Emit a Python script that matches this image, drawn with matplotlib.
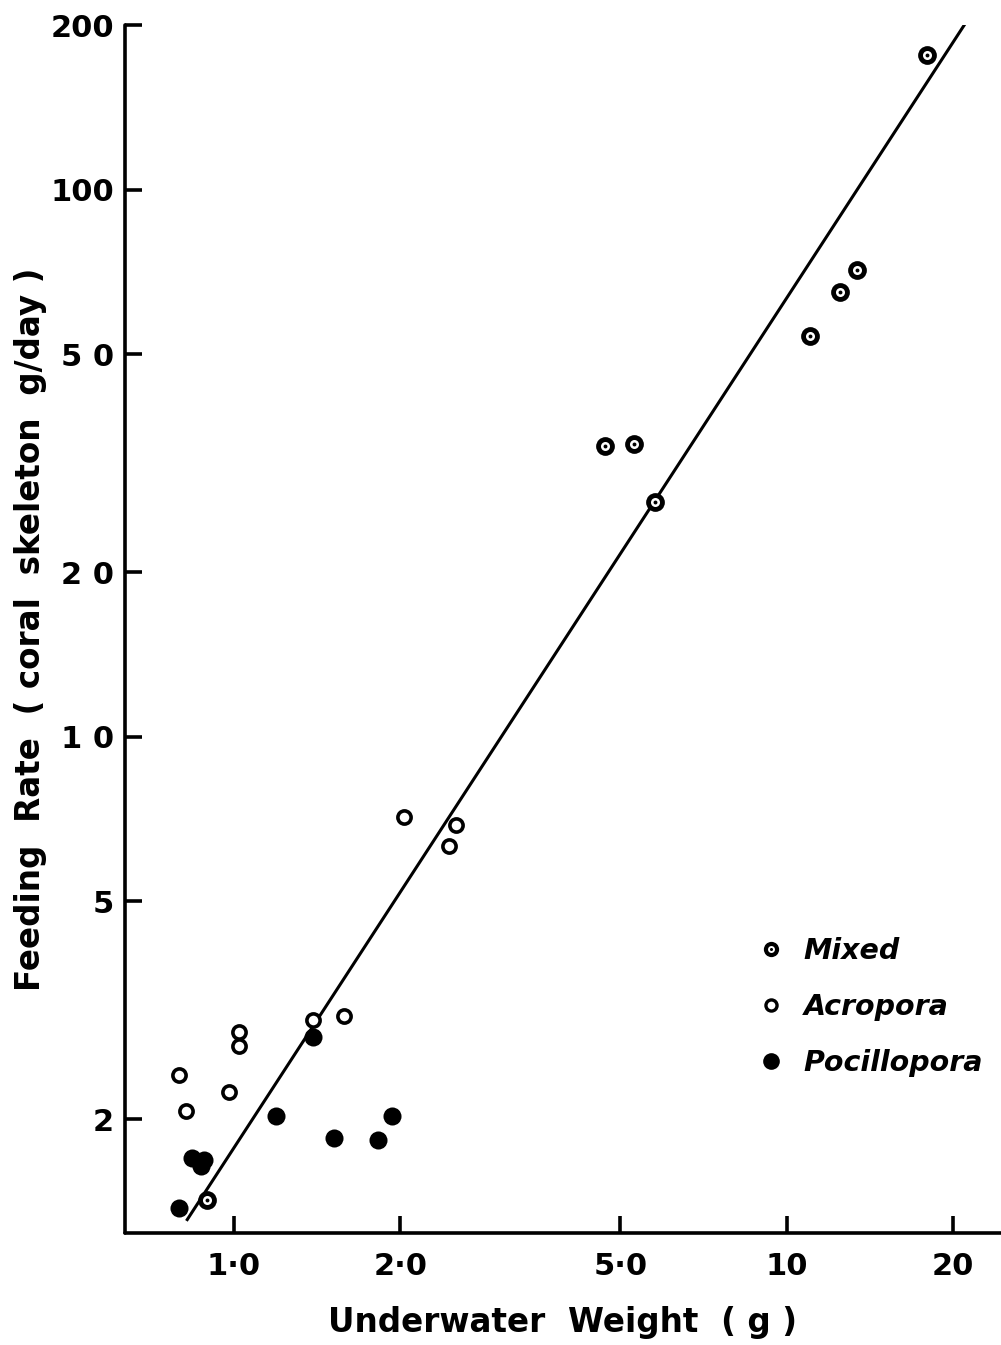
"""
Feeding rate vs underwater weight for coral-eating fish groups (log-log).
"""

import matplotlib
matplotlib.use("Agg")
import matplotlib.pyplot as plt
from matplotlib.legend_handler import HandlerTuple
from matplotlib.lines import Line2D

# data
mixed_weight = [17.9, 13.4, 12.5, 11.0, 4.68, 5.30, 5.78, 0.894]
mixed_rate = [176, 71.4, 65.1, 54.1, 34.0, 34.3, 26.9, 1.42]

acropora_weight = [2.03, 2.52, 2.45, 1.39, 1.58, 1.02, 1.02, 0.796, 0.819, 0.979]
acropora_rate = [7.14, 6.90, 6.32, 3.04, 3.08, 2.88, 2.72, 2.41, 2.07, 2.24]

pocillopora_weight = [1.39, 1.19, 1.93, 1.515, 1.82, 0.840, 0.883, 0.872, 0.796]
pocillopora_rate = [2.83, 2.03, 2.03, 1.85, 1.83, 1.70, 1.685, 1.64, 1.377]

fit_weight = [0.823, 20.96]
fit_rate = [1.31, 200.3]

x_ticks = [1, 2, 5, 10, 20]
x_tick_labels = ["1·0", "2·0", "5·0", "10", "20"]
y_ticks = [2, 5, 10, 20, 50, 100, 200]
y_tick_labels = ["2", "5", "1 0", "2 0", "5 0", "100", "200"]

FONT = "DejaVu Sans"


def main():
    fig = plt.figure(figsize=(10.01, 13.45), dpi=100)
    ax = fig.add_axes([125 / 1001, 112 / 1345, 876 / 1001, 1208 / 1345])

    ax.set_xscale("log")
    ax.set_yscale("log")
    ax.set_xlim(0.635, 24.4)
    ax.set_ylim(1.238, 200)

    # regression line
    ax.plot(fit_weight, fit_rate, color="black", lw=2.2, zorder=2)

    # Mixed: black disk, white ring, black centre
    ax.plot(mixed_weight, mixed_rate, "o", ms=13.5, color="black", mec="none", zorder=3)
    ax.plot(mixed_weight, mixed_rate, "o", ms=6.5, color="white", mec="none", zorder=4)
    ax.plot(mixed_weight, mixed_rate, "o", ms=2.8, color="black", mec="none", zorder=5)

    # Acropora: open circles
    ax.plot(acropora_weight, acropora_rate, "o", ms=9.5, mfc="white", mec="black",
            mew=2.6, zorder=3)

    # Pocillopora: filled circles
    ax.plot(pocillopora_weight, pocillopora_rate, "o", ms=13, color="black",
            mec="none", zorder=3)

    # axes styling
    for side in ["top", "right"]:
        ax.spines[side].set_visible(False)
    for side in ["left", "bottom"]:
        ax.spines[side].set_linewidth(2.6)
        ax.spines[side].set_capstyle("round")

    ax.set_xticks(x_ticks)
    ax.set_xticklabels(x_tick_labels)
    ax.set_yticks(y_ticks)
    ax.set_yticklabels(y_tick_labels)
    ax.minorticks_off()
    ax.tick_params(axis="both", direction="in", length=12, width=2.6,
                   labelsize=22)
    ax.tick_params(axis="x", pad=14)
    ax.tick_params(axis="y", pad=8)
    for lab in ax.get_xticklabels() + ax.get_yticklabels():
        lab.set_fontfamily(FONT)
        lab.set_fontweight("bold")

    ax.set_xlabel("Underwater  Weight  ( g )", fontsize=23.5, fontweight="bold",
                  family=FONT, labelpad=18)
    ax.set_ylabel("Feeding  Rate  ( coral  skeleton  g/day )", fontsize=23.5,
                  fontweight="bold", family=FONT, labelpad=2)

    # legend
    h_mixed = (
        Line2D([], [], ls="none", marker="o", ms=11, color="black", mec="none"),
        Line2D([], [], ls="none", marker="o", ms=5, color="white", mec="none"),
        Line2D([], [], ls="none", marker="o", ms=2.2, color="black", mec="none"),
    )
    h_acro = Line2D([], [], ls="none", marker="o", ms=8, mfc="white", mec="black", mew=2.4)
    h_poci = Line2D([], [], ls="none", marker="o", ms=12, color="black", mec="none")
    ax.legend(
        [h_mixed, h_acro, h_poci],
        ["Mixed", "Acropora", "Pocillopora"],
        handler_map={tuple: HandlerTuple(ndivide=1)},
        loc="upper left",
        bbox_to_anchor=(0.692, 0.266),
        frameon=False,
        handlelength=1.0,
        handletextpad=0.65,
        labelspacing=0.98,
        prop={"family": FONT, "style": "italic", "weight": "bold", "size": 20.5},
    )

    fig.savefig("out.png", dpi=100)


if __name__ == "__main__":
    main()
